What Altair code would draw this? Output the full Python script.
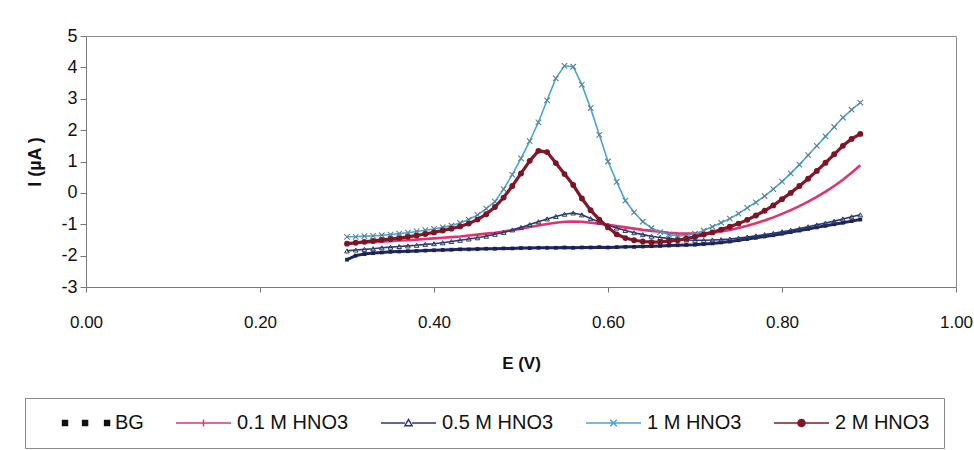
import altair as alt
import pandas as pd

# ---------------- data ----------------
E = [0.30, 0.31, 0.32, 0.33, 0.34, 0.35, 0.36, 0.37, 0.38, 0.39,
     0.40, 0.41, 0.42, 0.43, 0.44, 0.45, 0.46, 0.47, 0.48, 0.49,
     0.50, 0.51, 0.52, 0.53, 0.54, 0.55, 0.56, 0.57, 0.58, 0.59,
     0.60, 0.61, 0.62, 0.63, 0.64, 0.65, 0.66, 0.67, 0.68, 0.69,
     0.70, 0.71, 0.72, 0.73, 0.74, 0.75, 0.76, 0.77, 0.78, 0.79,
     0.80, 0.81, 0.82, 0.83, 0.84, 0.85, 0.86, 0.87, 0.88, 0.89]

BG = [-2.13, -2.00, -1.95, -1.92, -1.90, -1.88, -1.87, -1.86, -1.85, -1.84,
      -1.83, -1.82, -1.81, -1.80, -1.80, -1.79, -1.78, -1.78, -1.77, -1.77,
      -1.76, -1.76, -1.75, -1.75, -1.75, -1.74, -1.75, -1.74, -1.74, -1.73,
      -1.74, -1.73, -1.72, -1.72, -1.71, -1.70, -1.69, -1.68, -1.67, -1.66,
      -1.65, -1.63, -1.61, -1.58, -1.55, -1.51, -1.47, -1.43, -1.39, -1.35,
      -1.30, -1.25, -1.20, -1.15, -1.10, -1.05, -1.00, -0.95, -0.90, -0.85]

HNO3_01 = [-1.62, -1.60, -1.58, -1.57, -1.55, -1.54, -1.52, -1.51, -1.49, -1.47,
           -1.45, -1.43, -1.41, -1.39, -1.36, -1.33, -1.30, -1.27, -1.23, -1.19,
           -1.14, -1.09, -1.04, -0.99, -0.95, -0.92, -0.91, -0.92, -0.95, -0.98,
           -1.02, -1.06, -1.10, -1.14, -1.18, -1.21, -1.24, -1.27, -1.29, -1.30,
           -1.30, -1.29, -1.27, -1.23, -1.18, -1.12, -1.05, -0.97, -0.88, -0.78,
           -0.67, -0.55, -0.42, -0.28, -0.13, 0.04, 0.22, 0.42, 0.64, 0.88]

HNO3_05 = [-1.85, -1.82, -1.80, -1.78, -1.75, -1.73, -1.71, -1.69, -1.67, -1.64,
           -1.62, -1.59, -1.55, -1.51, -1.47, -1.43, -1.38, -1.32, -1.26, -1.18,
           -1.10, -1.01, -0.92, -0.83, -0.75, -0.68, -0.64, -0.70, -0.82, -0.93,
           -1.03, -1.12, -1.20, -1.27, -1.33, -1.38, -1.42, -1.45, -1.48, -1.50,
           -1.51, -1.51, -1.50, -1.49, -1.47, -1.44, -1.41, -1.37, -1.33, -1.29,
           -1.24, -1.19, -1.14, -1.08, -1.02, -0.96, -0.90, -0.83, -0.76, -0.70]

HNO3_1 = [-1.40, -1.40, -1.38, -1.37, -1.35, -1.33, -1.30, -1.27, -1.23, -1.19,
          -1.15, -1.10, -1.04, -0.96, -0.85, -0.70, -0.50, -0.28, 0.12, 0.58,
          1.10, 1.65, 2.25, 2.95, 3.65, 4.05, 4.02, 3.45, 2.70, 1.85,
          1.00, 0.35, -0.25, -0.62, -0.92, -1.12, -1.25, -1.33, -1.37, -1.36,
          -1.30, -1.20, -1.08, -0.95, -0.82, -0.66, -0.48, -0.30, -0.10, 0.12,
          0.36, 0.62, 0.90, 1.20, 1.50, 1.80, 2.10, 2.40, 2.65, 2.88]

HNO3_2 = [-1.62, -1.59, -1.56, -1.53, -1.50, -1.47, -1.44, -1.40, -1.36, -1.31,
          -1.26, -1.20, -1.14, -1.07, -0.98, -0.85, -0.68, -0.45, -0.15, 0.22,
          0.62, 1.02, 1.34, 1.30, 0.95, 0.60, 0.25, -0.18, -0.55, -0.85,
          -1.10, -1.32, -1.44, -1.51, -1.55, -1.57, -1.56, -1.54, -1.51, -1.46,
          -1.40, -1.33, -1.26, -1.17, -1.08, -0.98, -0.86, -0.72, -0.57, -0.40,
          -0.20, 0.00, 0.22, 0.45, 0.70, 0.96, 1.23, 1.50, 1.72, 1.88]

SERIES = ["BG", "0.1 M HNO3", "0.5 M HNO3", "1 M HNO3", "2 M HNO3"]
VALUES = [BG, HNO3_01, HNO3_05, HNO3_1, HNO3_2]
X_TICKS = [0.0, 0.2, 0.4, 0.6, 0.8, 1.0]
Y_TICKS = [-3, -2, -1, 0, 1, 2, 3, 4, 5]

df = pd.DataFrame(
    [{"E": e, "I": v, "series": s} for s, vals in zip(SERIES, VALUES) for e, v in zip(E, vals)]
)

# ---------------- styling ----------------
FONT = "Liberation Sans"
LINE_COLORS = ["#1d2768", "#e2336c", "#27368a", "#45a6d8", "#86172a"]
LINE_WIDTHS = [3.0, 2.6, 1.6, 1.6, 3.2]
MARKERS = [
    dict(shape="square", size=14, filled=True, color="#1a2050"),
    None,
    dict(shape="triangle-up", size=22, filled=False, strokeWidth=1, color="#2f3d4f"),
    dict(shape="M-1,-1L1,1M-1,1L1,-1", size=30, filled=False, strokeWidth=1.1, color="#5d7f8f"),
    dict(shape="circle", size=34, filled=True, color="#7a1526"),
]

LEG_SHAPES = [
    "M-0.69,-0.09H-0.51V0.09H-0.69Z M0.04,-0.09H0.22V0.09H0.04Z M0.84,-0.09H1.02V0.09H0.84Z",
    "M-1,0H1M0,-0.13V0.13",
    "M-1,0H-0.13M0.13,0H1M-0.13,0.1L0,-0.13L0.13,0.1Z",
    "M-1,0H1M-0.12,-0.12L0.12,0.12M-0.12,0.12L0.12,-0.12",
    "M-1,0H1M-0.13,0A0.13,0.13 0 1,0 0.13,0A0.13,0.13 0 1,0 -0.13,0Z",
]
LEG_FILL = ["#111111", "#e2336c", "#ffffff", "#45a6d8", "#7a1526"]
LEG_STROKE = ["#111111", "#e2336c", "#27368a", "#45a6d8", "#86172a"]

x_enc = alt.X(
    "E:Q",
    scale=alt.Scale(domain=[0, 1], nice=False, zero=False),
    axis=alt.Axis(values=X_TICKS, format=".2f", title="E (V)", grid=False,
                  labelFlush=False, labelFontSize=17, labelPadding=22, tickSize=5,
                  titleFontSize=17, titleFontWeight="bold", titlePadding=25),
)
y_enc = alt.Y(
    "I:Q",
    scale=alt.Scale(domain=[-3, 5], nice=False, zero=False),
    axis=alt.Axis(values=Y_TICKS, labelExpr="'' + datum.value", title="I (µA )", grid=False,
                  labelFontSize=18, labelPadding=3, tickSize=6,
                  titleFontSize=18, titleFontWeight="bold", titlePadding=16),
)

base = alt.Chart(df)
layers = []
for name, col, lw, mk in zip(SERIES, LINE_COLORS, LINE_WIDTHS, MARKERS):
    sub = base.transform_filter(alt.datum.series == name)
    layers.append(sub.mark_line(color=col, strokeWidth=lw).encode(x=x_enc, y=y_enc))
    if mk is not None:
        layers.append(sub.mark_point(opacity=1, **mk).encode(x=x_enc, y=y_enc))

legend = alt.Legend(
    title=" ", titleOrient="left", titlePadding=14, titleFontSize=20, titleFont=FONT,
    orient="none", legendX=-61, legendY=362,
    direction="horizontal", columns=5, columnPadding=31,
    labelFont=FONT, labelFontSize=20, labelColor="#111111", labelOffset=5,
    symbolSize=3025, symbolStrokeWidth=1.5, clipHeight=22,
    padding=14, strokeColor="#8a8a8a", fillColor="white",
)

carrier = base.transform_filter("datum.I > 100").mark_point(
    filled=True, size=3025, strokeWidth=1.5, opacity=1
).encode(
    x=x_enc, y=y_enc,
    fill=alt.Fill("series:N", scale=alt.Scale(domain=SERIES, range=LEG_FILL), legend=legend),
    stroke=alt.Stroke("series:N", scale=alt.Scale(domain=SERIES, range=LEG_STROKE), legend=legend),
    shape=alt.Shape("series:N", scale=alt.Scale(domain=SERIES, range=LEG_SHAPES), legend=legend),
)

chart = (
    alt.layer(*layers, carrier)
    .properties(
        width=870, height=251,
        autosize=alt.AutoSizeParams(type="none"),
        padding={"left": 86, "top": 36, "right": 18, "bottom": 163},
        background="white",
    )
    .configure_view(stroke="#8c8c8c", strokeWidth=1)
    .configure_axis(domainColor="#7a7a7a", tickColor="#7a7a7a",
                    labelFont=FONT, titleFont=FONT,
                    labelColor="#111111", titleColor="#111111")
)

chart.save("out.html", embed_options={"renderer": "svg", "actions": False})
